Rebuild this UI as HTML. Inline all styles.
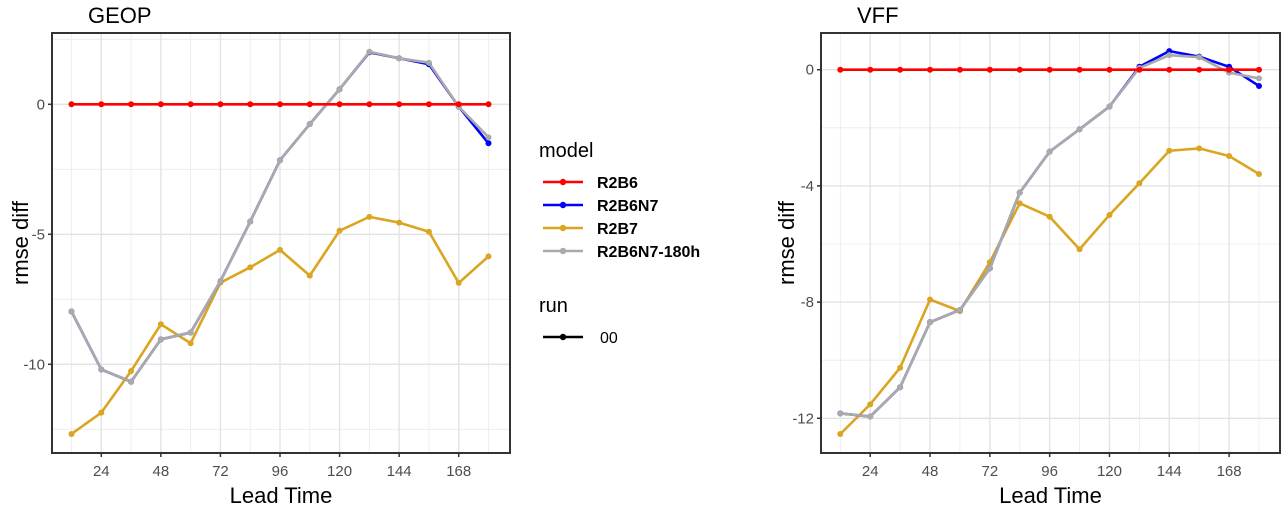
<!DOCTYPE html>
<html><head><meta charset="utf-8"><style>
body{margin:0;background:#fff;}
svg{display:block;font-family:"Liberation Sans",Arial,sans-serif;}
</style></head><body>
<svg id="c" width="1288" height="507" viewBox="0 0 1288 507" xmlns="http://www.w3.org/2000/svg"></svg>
<script>
const leadTimes=[12,24,36,48,60,72,84,96,108,120,132,144,156,168,180];
const xTicks=[24,48,72,96,120,144,168];
const geopR2B6=[0,0,0,0,0,0,0,0,0,0,0,0,0,0,0];
const geopR2B6N7=[-7.97,-10.2,-10.67,-9.04,-8.78,-6.8,-4.51,-2.15,-0.76,0.58,2.0,1.77,1.54,-0.09,-1.5];
const geopR2B7=[-12.68,-11.86,-10.26,-8.46,-9.19,-6.86,-6.27,-5.6,-6.59,-4.86,-4.33,-4.55,-4.9,-6.87,-5.85];
const geopR2B6N7_180h=[-7.97,-10.2,-10.67,-9.04,-8.78,-6.8,-4.51,-2.15,-0.76,0.58,2.02,1.77,1.6,-0.09,-1.27];
const geopYTicks=[0,-5,-10];
const geopYMinor=[2.5,-2.5,-7.5,-12.5];
const vffR2B6=[0,0,0,0,0,0,0,0,0,0,0,0,0,0,0];
const vffR2B6N7=[-11.83,-11.94,-10.93,-8.69,-8.27,-6.84,-4.23,-2.82,-2.05,-1.27,0.1,0.64,0.45,0.1,-0.56];
const vffR2B7=[-12.54,-11.52,-10.26,-7.91,-8.31,-6.63,-4.6,-5.06,-6.18,-5.0,-3.91,-2.79,-2.71,-2.97,-3.59];
const vffR2B6N7_180h=[-11.83,-11.94,-10.93,-8.69,-8.27,-6.84,-4.23,-2.82,-2.05,-1.27,0.06,0.5,0.43,-0.1,-0.3];
const vffYTicks=[0,-4,-8,-12];
const vffYMinor=[-2,-6,-10];
const legendLabels=["R2B6","R2B6N7","R2B7","R2B6N7-180h"];
const colors=["#ff0000","#0000ff","#daa520","#aaaaaa"];

const svg=document.getElementById('c');
const NS="http://www.w3.org/2000/svg";
function mk(tag,attrs,parent){const e=document.createElementNS(NS,tag);for(const k in attrs)e.setAttribute(k,attrs[k]);(parent||svg).appendChild(e);return e;}

function panel(opt){
  const g=mk('g',{});
  
  
  const L=opt.left,R=opt.right,T=33,B=453;
  const x=v=>opt.x12+(v-12)*(opt.x180-opt.x12)/168;
  const y=v=>opt.y0-v*opt.ppu;
  // minor grid
  opt.minor.forEach(v=>{const l=mk('line',{x1:L,x2:R,y1:y(v),y2:y(v),stroke:'#ebebeb','stroke-width':0.8},g);});
  for(let t=12;t<=180;t+=24){const l=mk('line',{x1:x(t),x2:x(t),y1:T,y2:B,stroke:'#ebebeb','stroke-width':0.8},g);}
  opt.ticks.forEach(v=>{const l=mk('line',{x1:L,x2:R,y1:y(v),y2:y(v),stroke:'#e3e3e3','stroke-width':1.4},g);});
  xTicks.forEach(v=>{const l=mk('line',{x1:x(v),x2:x(v),y1:T,y2:B,stroke:'#e3e3e3','stroke-width':1.4},g);});
  // series
  const series=[opt.s[0],opt.s[1],opt.s[2],opt.s[3]];
  const order=[2,1,3,0];
  order.forEach(i=>{
    const d=series[i];
    const pts=leadTimes.map((t,j)=>x(t)+','+y(d[j])).join(' ');
    const pl=mk('polyline',{points:pts,fill:'none',stroke:colors[i],'stroke-width':2.6,'stroke-linejoin':'round'},g);
    
    
    leadTimes.forEach((t,j)=>{const c=mk('circle',{cx:x(t),cy:y(d[j]),r:3,fill:colors[i]},g);});
  });
  const box=mk('rect',{x:L,y:T,width:R-L,height:B-T,fill:'none',stroke:'#333','stroke-width':2},g);
  
  opt.ticks.forEach(v=>{
    const tk=mk('line',{x1:L-4,x2:L,y1:y(v),y2:y(v),stroke:'#333','stroke-width':1.5},g);
    const tx=mk('text',{x:L-7,y:y(v)+5,'text-anchor':'end','font-size':15,fill:'#4d4d4d'},g);tx.textContent=v;
  });
  xTicks.forEach(v=>{
    const tk=mk('line',{x1:x(v),x2:x(v),y1:B,y2:B+4,stroke:'#333','stroke-width':1.5},g);
    const tx=mk('text',{x:x(v),y:B+23,'text-anchor':'middle','font-size':15,fill:'#4d4d4d'},g);tx.textContent=v;
  });
  const xt=mk('text',{x:(L+R)/2,y:503,'text-anchor':'middle','font-size':22,fill:'#000'},g);xt.textContent='Lead Time';
  const yt=mk('text',{x:0,y:0,'text-anchor':'middle','font-size':22,fill:'#000',transform:`translate(${opt.ytx},${(T+B)/2}) rotate(-90)`},g);yt.textContent='rmse diff';
  const ti=mk('text',{x:L+36,y:23,'font-size':22,fill:'#000'},g);ti.textContent=opt.title;
}
panel({name:'geop',title:'GEOP',left:52,right:510,x12:71.5,x180:488.5,y0:104.3,ppu:26,ticks:geopYTicks,minor:geopYMinor,ytx:28,s:[geopR2B6,geopR2B6N7,geopR2B7,geopR2B6N7_180h]});
panel({name:'vff',title:'VFF',left:821,right:1280,x12:840.3,x180:1259,y0:69.7,ppu:29.05,ticks:vffYTicks,minor:vffYMinor,ytx:794,s:[vffR2B6,vffR2B6N7,vffR2B7,vffR2B6N7_180h]});

// legend
const lg=mk('g',{});


const lt=mk('text',{x:539,y:157,'font-size':20,fill:'#000'},lg);lt.textContent='model';


const ly=[182,205,228,251];
legendLabels.forEach((lab,i)=>{
  const e=mk('g',{},lg);
  
  
  mk('line',{x1:543,x2:583,y1:ly[i],y2:ly[i],stroke:colors[i],'stroke-width':2.6},e);
  mk('circle',{cx:563,cy:ly[i],r:3.2,fill:colors[i]},e);
  const t=mk('text',{x:597,y:ly[i]+6,'font-size':16,'font-weight':'bold',fill:'#000'},e);t.textContent=lab;
});
const rt=mk('text',{x:539,y:312,'font-size':20,fill:'#000'},lg);rt.textContent='run';


const re=mk('g',{},lg);


mk('line',{x1:543,x2:583,y1:337,y2:337,stroke:'#000','stroke-width':2.6},re);
mk('circle',{cx:563,cy:337,r:3.2,fill:'#000'},re);
const t0=mk('text',{x:600,y:343,'font-size':16,fill:'#000'},re);t0.textContent='00';
</script>
</body></html>
